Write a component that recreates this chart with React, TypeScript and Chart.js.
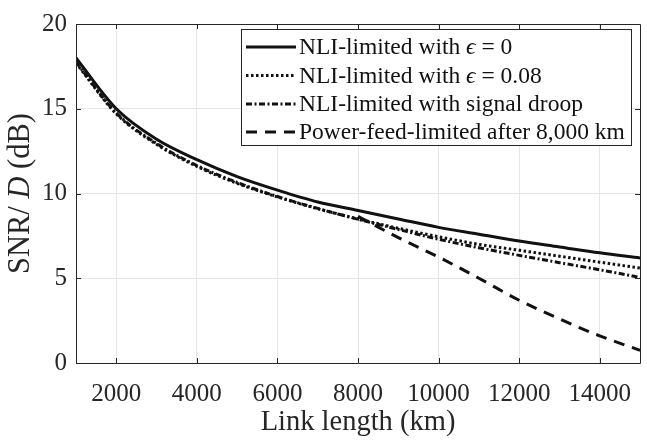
import React, { useEffect, useRef } from "react";
import { Chart, registerables } from "chart.js";

Chart.register(...registerables);

const lengthsKm = [1000, 2000, 3000, 4000, 5000, 6000, 7000, 8000, 9000, 10000, 11000, 12000, 13000, 14000, 15000];
const snrEps0 = [18.0, 15.0, 13.2, 12.0, 11.0, 10.2, 9.5, 9.0, 8.5, 8.0, 7.6, 7.2, 6.85, 6.5, 6.2];
const snrEps008 = [17.7, 14.7, 12.9, 11.6, 10.6, 9.8, 9.1, 8.5, 7.95, 7.45, 7.0, 6.65, 6.3, 5.95, 5.6];
const snrDroop = [17.75, 14.75, 12.95, 11.65, 10.65, 9.82, 9.12, 8.48, 7.88, 7.3, 6.8, 6.35, 5.92, 5.5, 5.05];
const feedLengthsKm = [8000, 9000, 10000, 11000, 12000, 13000, 14000, 15000];
const snrPowerFeed = [8.65, 7.4, 6.25, 5.0, 3.7, 2.6, 1.6, 0.75];

const xTicks = [2000, 4000, 6000, 8000, 10000, 12000, 14000];
const yTicks = [0, 5, 10, 15, 20];

const legendParts: { text: string; italic?: boolean }[][] = [
  [{ text: "NLI-limited with " }, { text: "\u03F5", italic: true }, { text: " = 0" }],
  [{ text: "NLI-limited with " }, { text: "\u03F5", italic: true }, { text: " = 0.08" }],
  [{ text: "NLI-limited with signal droop" }],
  [{ text: "Power-feed-limited after 8,000 km" }],
];
const yTitleParts: { text: string; italic?: boolean }[] = [
  { text: "SNR/ " },
  { text: "D", italic: true },
  { text: " (dB)" },
];
const xTitle = "Link length (km)";

const SERIF = '"Liberation Serif", "Times New Roman", serif';
const AXIS = "#262626";
const DASHES: number[][] = [[], [2.5, 2.5], [6, 2.5, 2, 2.5], [11, 8]];

function drawParts(ctx: CanvasRenderingContext2D, parts: { text: string; italic?: boolean }[], x: number, y: number, size: number, center: boolean) {
  const fonts = parts.map((p) => `${p.italic ? "italic " : ""}${size}px ${SERIF}`);
  let total = 0;
  parts.forEach((p, i) => {
    ctx.font = fonts[i];
    total += ctx.measureText(p.text).width;
  });
  let cx = center ? x - total / 2 : x;
  parts.forEach((p, i) => {
    ctx.font = fonts[i];
    ctx.textAlign = "left";
    ctx.fillText(p.text, cx, y);
    cx += ctx.measureText(p.text).width;
  });
}

const decorPlugin = {
  id: "decor",
  afterDatasetsDraw(chart: any) {
    const ctx: CanvasRenderingContext2D = chart.ctx;
    const { left, right, top, bottom } = chart.chartArea;
    const xs = chart.scales.x;
    const ys = chart.scales.y;
    ctx.save();
    ctx.strokeStyle = AXIS;
    ctx.lineWidth = 1;
    ctx.setLineDash([]);
    ctx.beginPath();
    ctx.rect(Math.round(left) + 0.5, Math.round(top) + 0.5, Math.round(right - left), Math.round(bottom - top));
    ctx.stroke();
    const tl = 5;
    ctx.beginPath();
    xTicks.forEach((v) => {
      const px = Math.round(xs.getPixelForValue(v)) + 0.5;
      ctx.moveTo(px, bottom);
      ctx.lineTo(px, bottom - tl);
      ctx.moveTo(px, top);
      ctx.lineTo(px, top + tl);
    });
    yTicks.forEach((v) => {
      const py = Math.round(ys.getPixelForValue(v)) + 0.5;
      ctx.moveTo(left, py);
      ctx.lineTo(left + tl, py);
      ctx.moveTo(right, py);
      ctx.lineTo(right - tl, py);
    });
    ctx.stroke();

    const lx0 = 241, ly0 = 29, lx1 = 631, ly1 = 145;
    ctx.fillStyle = "#ffffff";
    ctx.fillRect(lx0, ly0, lx1 - lx0, ly1 - ly0);
    ctx.strokeStyle = AXIS;
    ctx.lineWidth = 1;
    ctx.strokeRect(lx0 + 0.5, ly0 + 0.5, lx1 - lx0, ly1 - ly0);
    const rowY = [47, 75.5, 104, 132];
    legendParts.forEach((parts, i) => {
      const y = rowY[i];
      ctx.strokeStyle = "#111111";
      ctx.lineWidth = 3;
      ctx.lineCap = "butt";
      ctx.setLineDash(DASHES[i]);
      ctx.beginPath();
      ctx.moveTo(246, y);
      ctx.lineTo(296, y);
      ctx.stroke();
      ctx.setLineDash([]);
      ctx.fillStyle = "#111111";
      ctx.textBaseline = "middle";
      drawParts(ctx, parts, 299, y + 1, 23.5, false);
    });

    ctx.fillStyle = AXIS;
    ctx.textBaseline = "middle";
    ctx.font = `28.5px ${SERIF}`;
    ctx.textAlign = "center";
    ctx.fillText(xTitle, (left + right) / 2, 423);
    ctx.save();
    ctx.translate(21, (top + bottom) / 2);
    ctx.rotate(-Math.PI / 2);
    drawParts(ctx, yTitleParts, 0, 0, 30.5, true);
    ctx.restore();
    ctx.restore();
  },
};

export default function App() {
  const ref = useRef<HTMLCanvasElement | null>(null);
  useEffect(() => {
    if (!ref.current) return;
    const mk = (xs: number[], ys: number[]) => xs.map((x, i) => ({ x, y: ys[i] }));
    const common = {
      borderColor: "#111111",
      borderWidth: 3,
      pointRadius: 0,
      fill: false,
      cubicInterpolationMode: "monotone" as const,
      borderCapStyle: "butt" as const,
    };
    const chart = new Chart(ref.current, {
      type: "line",
      data: {
        datasets: [
          { ...common, label: "NLI-limited with ϵ = 0", data: mk(lengthsKm, snrEps0), borderDash: DASHES[0], order: 4 },
          { ...common, label: "NLI-limited with ϵ = 0.08", data: mk(lengthsKm, snrEps008), borderDash: DASHES[1], order: 3 },
          { ...common, label: "NLI-limited with signal droop", data: mk(lengthsKm, snrDroop), borderDash: DASHES[2], order: 2 },
          { ...common, label: "Power-feed-limited after 8,000 km", data: mk(feedLengthsKm, snrPowerFeed), borderDash: DASHES[3], order: 1 },
        ],
      },
      options: {
        animation: false,
        responsive: false,
        maintainAspectRatio: false,
        layout: { padding: { top: 13, right: 0, left: 0, bottom: 0 } },
        plugins: { legend: { display: false }, tooltip: { enabled: false } },
        scales: {
          x: {
            type: "linear",
            min: 1000,
            max: 15000,
            afterBuildTicks: (axis: any) => {
              axis.ticks = xTicks.map((v) => ({ value: v }));
            },
            afterFit: (scale: any) => {
              scale.height = 80;
            },
            grid: { color: "#e6e6e6", drawTicks: false, lineWidth: 1 },
            border: { display: false },
            ticks: {
              color: AXIS,
              font: { family: SERIF, size: 25 },
              padding: 16,
              maxRotation: 0,
              autoSkip: false,
              callback: (v: any) => String(v),
            },
          },
          y: {
            type: "linear",
            min: 0,
            max: 20,
            afterBuildTicks: (axis: any) => {
              axis.ticks = yTicks.map((v) => ({ value: v }));
            },
            afterFit: (scale: any) => {
              scale.width = 76;
            },
            grid: { color: "#e6e6e6", drawTicks: false, lineWidth: 1 },
            border: { display: false },
            ticks: {
              color: AXIS,
              font: { family: SERIF, size: 25 },
              padding: 9,
              autoSkip: false,
              callback: (v: any) => String(v),
            },
          },
        },
      },
      plugins: [decorPlugin],
    });
    return () => chart.destroy();
  }, []);
  return (
    <div style={{ position: "fixed", left: 0, top: 0, width: 647, height: 443, background: "#fff" }}>
      <canvas ref={ref} width={647} height={443} style={{ width: 647, height: 443, display: "block" }} />
    </div>
  );
}
